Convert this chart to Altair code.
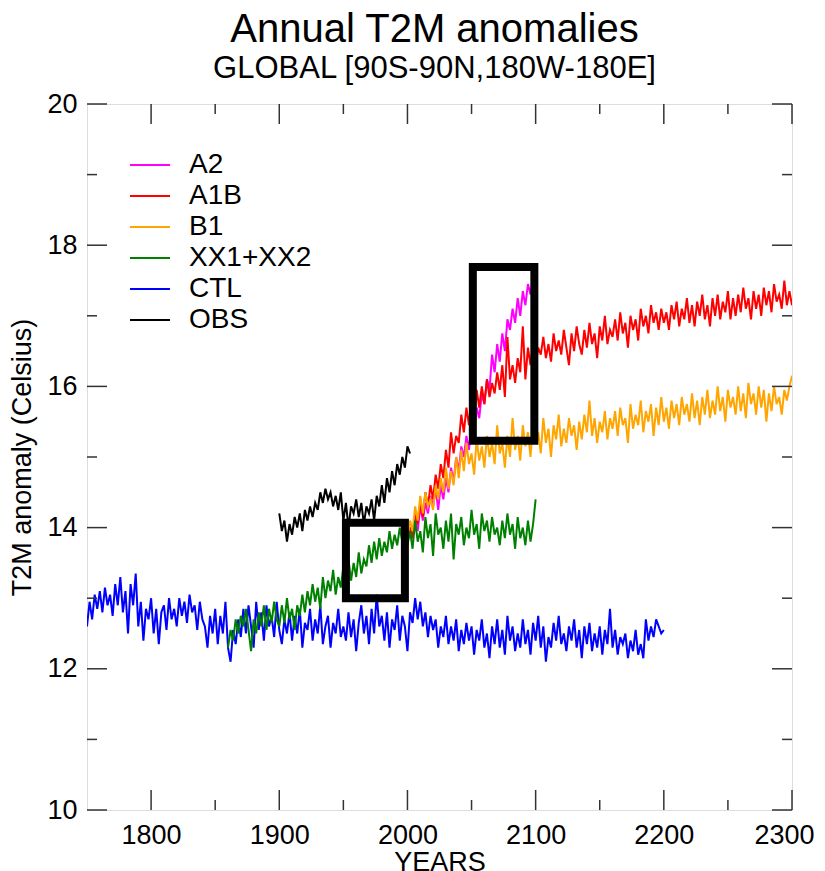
import altair as alt
import pandas as pd

FONT = "Liberation Sans"
series_names = ["A2", "A1B", "B1", "XX1+XX2", "CTL", "OBS"]
series_colors = ["#ff00ff", "#ff0000", "#ffa500", "#008000", "#0000ff", "#000000"]

step = 2  # years between values

ctl_start = 1750
ctl_values = [
    12.6, 12.95, 12.7, 13.05, 12.85, 13.1, 12.8, 13.15, 12.9, 13.05,
    12.75, 13.2, 12.9, 13.3, 12.8, 13.1, 12.5, 13.2, 12.9, 13.35,
    12.6, 12.95, 12.4, 12.85, 12.7, 13.0, 12.5, 12.85, 12.35, 12.8,
    12.9, 12.55, 13.0, 12.7, 12.85, 12.6, 13.0, 12.75, 12.95, 12.65,
    13.05, 12.8, 12.9, 12.55, 12.95, 12.7, 12.6, 12.3, 12.75, 12.5,
    12.85, 12.35, 12.75, 12.5, 12.95, 12.3, 12.1, 12.55, 12.35, 12.7,
    12.45, 12.85, 12.5, 12.9, 12.6, 12.3, 12.95, 12.55, 12.8, 12.4,
    12.9, 12.6, 12.75, 12.45, 12.95, 12.55, 12.35, 12.7, 12.5, 12.8,
    12.4, 12.75, 12.5, 12.85, 12.3, 12.65, 12.55, 12.85, 12.4, 12.7,
    12.5, 12.9, 12.35, 12.6, 12.75, 12.3, 12.65, 12.5, 12.85, 12.45,
    12.6, 12.4, 12.8, 12.45, 12.7, 12.25, 12.65, 12.9, 12.5, 12.75,
    12.35, 12.85, 12.5, 13.05, 12.6, 12.75, 12.4, 12.8, 12.3, 12.7,
    12.55, 12.9, 12.4, 12.75, 12.6, 12.25, 12.8, 12.65, 13.0, 12.7,
    12.95, 12.6, 12.8, 12.45, 12.75, 12.55, 12.7, 12.3, 12.6, 12.45,
    12.75, 12.35, 12.6, 12.4, 12.7, 12.25, 12.55, 12.35, 12.65, 12.4,
    12.6, 12.2, 12.55, 12.4, 12.7, 12.3, 12.5, 12.15, 12.6, 12.35,
    12.7, 12.3, 12.55, 12.2, 12.75, 12.4, 12.6, 12.25, 12.5, 12.3,
    12.7, 12.35, 12.55, 12.2, 12.65, 12.4, 12.75, 12.3, 12.6, 12.1,
    12.45, 12.3, 12.65, 12.4, 12.75, 12.35, 12.5, 12.25, 12.6, 12.4,
    12.7, 12.3, 12.55, 12.15, 12.6, 12.35, 12.65, 12.25, 12.5, 12.3,
    12.6, 12.2, 12.55, 12.35, 12.85, 12.3, 12.55, 12.2, 12.45, 12.35,
    12.5, 12.15, 12.4, 12.25, 12.55, 12.2, 12.35, 12.15, 12.7, 12.4,
    12.6, 12.45, 12.7, 12.6, 12.5, 12.55,
]

xx_start = 1860
xx_values = [
    12.3, 12.55, 12.4, 12.7, 12.5, 12.75, 12.6, 12.85, 12.55, 12.25,
    12.7, 12.5, 12.8, 12.6, 12.9, 12.55, 12.85, 12.65, 12.95, 12.7,
    12.6, 12.9, 12.65, 13.0, 12.7, 12.85, 12.55, 12.9, 12.75, 13.05,
    12.8, 13.1, 12.9, 13.2, 12.95, 13.15, 12.85, 13.3, 13.0, 13.25,
    13.1, 13.4, 13.05, 13.3, 13.15, 13.45, 13.2, 13.55, 13.25, 13.5,
    13.3, 13.65, 13.35, 13.55, 13.45, 13.75, 13.5, 13.8, 13.55, 13.85,
    13.6, 13.8, 13.65, 13.95, 13.7, 13.9, 13.75, 14.0, 13.8, 14.05,
    13.75, 13.95, 13.7, 14.1, 13.8, 13.95, 13.65, 14.15, 13.85, 14.05,
    13.6, 14.2, 13.9, 14.0, 13.7, 14.1, 13.8, 14.2, 13.55, 14.05,
    13.9, 14.15, 13.75, 14.0, 13.85, 14.25, 13.9, 14.05, 13.7, 14.2,
    13.95, 14.1, 13.8, 14.15, 13.9, 14.0, 13.75, 14.1, 13.85, 14.2,
    13.9, 14.05, 13.7, 14.15, 13.85, 14.0, 13.75, 14.1, 13.8, 14.05,
    14.4,
]

a1b_start = 2000
a1b_values = [
    13.8, 14.0, 13.85, 14.2, 14.05, 14.35, 14.15, 14.5, 14.3, 14.6,
    14.4, 14.75, 14.55, 14.9, 14.7, 15.1, 14.85, 15.35, 15.05, 15.3,
    15.2, 15.6, 15.35, 15.7, 15.45, 15.85, 15.55, 15.95, 15.7, 16.0,
    15.75, 16.1, 15.85, 16.05, 15.9, 16.2, 15.95, 16.3, 15.85, 16.7,
    16.1, 16.3, 16.05, 16.4, 16.2, 16.85, 16.1, 16.55, 16.3, 16.6,
    16.3, 16.55, 16.45, 16.7, 16.4, 16.6, 16.35, 16.75, 16.5, 16.65,
    16.45, 16.8, 16.55, 16.3, 16.75, 16.5, 16.85, 16.6, 16.45, 16.8,
    16.55, 16.9, 16.6, 16.75, 16.4, 16.85, 16.65, 17.0, 16.6, 16.8,
    16.7, 16.95, 16.65, 17.05, 16.75, 16.9, 16.55, 17.0, 16.8, 16.95,
    16.65, 17.1, 16.85, 17.0, 16.75, 17.15, 16.9, 17.05, 16.8, 17.1,
    16.9, 17.05, 16.8, 17.15, 16.95, 17.2, 16.85, 17.1, 16.95, 17.25,
    16.9, 17.15, 16.85, 17.2, 17.0, 17.3, 16.95, 17.15, 16.85, 17.25,
    17.0, 17.3, 16.95, 17.2, 17.05, 17.35, 16.95, 17.25, 17.0, 17.3,
    17.05, 17.4, 17.1, 17.25, 16.95, 17.35, 17.1, 17.3, 17.0, 17.4,
    17.15, 17.35, 17.05, 17.45, 17.2, 17.3, 17.1, 17.5, 17.15, 17.35,
    17.15,
]

b1_start = 2000
b1_values = [
    13.85, 14.1, 13.95, 14.3, 14.1, 14.45, 14.2, 14.5, 14.3, 14.4,
    14.25, 14.6, 14.4, 14.7, 14.5, 14.85, 14.55, 14.8, 14.6, 15.0,
    14.7, 15.1, 14.8, 15.2, 14.9, 15.05, 14.75, 15.25, 14.95, 15.15,
    14.85, 15.3, 15.0, 15.2, 14.9, 15.45, 15.05, 15.2, 14.85, 15.3,
    15.0, 15.55, 15.1, 15.3, 14.95, 15.45, 15.15, 15.35, 15.0, 15.5,
    15.2, 15.35, 15.05, 15.55, 15.2, 15.4, 15.0, 15.45, 15.25, 15.6,
    15.15, 15.4, 15.2, 15.55, 15.3, 15.45, 15.1, 15.5, 15.25, 15.6,
    15.35, 15.8, 15.3, 15.55, 15.2, 15.5, 15.35, 15.65, 15.25, 15.55,
    15.4, 15.65, 15.3, 15.7, 15.45, 15.55, 15.2, 15.75, 15.4, 15.6,
    15.45, 15.8, 15.35, 15.65, 15.5, 15.75, 15.3, 15.7, 15.45, 15.85,
    15.5, 15.7, 15.4, 15.8, 15.55, 15.75, 15.45, 15.85, 15.6, 15.75,
    15.5, 15.9, 15.55, 15.8, 15.45, 15.85, 15.6, 15.95, 15.55, 15.8,
    15.6, 16.0, 15.65, 15.85, 15.5, 15.95, 15.7, 15.85, 15.6, 16.0,
    15.65, 15.9, 15.55, 16.05, 15.75, 15.9, 15.6, 16.0, 15.7, 15.95,
    15.5, 15.9, 15.65, 16.0, 15.75, 15.85, 15.6, 15.95, 15.8, 16.0,
    16.15,
]

a2_start = 2000
a2_values = [
    13.8, 14.0, 13.85, 14.15, 13.95, 14.3, 14.1, 14.35, 14.2, 14.45,
    14.3, 14.55, 14.25, 14.6, 14.4, 14.7, 14.5, 14.85, 14.65, 15.0,
    14.8, 15.15, 15.0, 15.3, 15.1, 15.5, 15.35, 15.7, 15.55, 15.9,
    15.75, 16.1, 15.95, 16.45, 16.2, 16.6, 16.35, 16.75, 16.5, 16.95,
    16.8, 17.1, 16.9, 17.25, 17.0, 17.35, 17.15, 17.45, 17.3, 17.55,
    17.7,
]

obs_start = 1900
obs_values = [
    14.2, 13.95, 14.1, 13.8, 14.05, 13.9, 14.15, 14.0, 14.2, 13.95,
    14.25, 14.1, 14.3, 14.15, 14.35, 14.25, 14.5, 14.35, 14.55, 14.4,
    14.5, 14.3, 14.45, 14.25, 14.5, 14.1, 14.35, 14.0, 14.3, 14.2,
    14.4, 14.15, 14.35, 14.05, 14.3, 14.2, 14.4, 14.1, 14.45, 14.3,
    14.6, 14.35, 14.7, 14.5, 14.8, 14.6, 14.9, 14.75, 15.0, 14.85,
    15.15, 15.05,
]

# highlight boxes: year range and value range
box_x1 = [1952, 2051]
box_x2 = [1998, 2099]
box_y1 = [13.0, 15.23]
box_y2 = [14.07, 17.69]

x_major = [1800, 1900, 2000, 2100, 2200, 2300]
x_minor = [1850, 1950, 2050, 2150, 2250]
y_major = [10, 12, 14, 16, 18, 20]
y_minor = [11, 13, 15, 17, 19]

W, H = 705, 706
AXC = "#333333"


def frame(name, start, vals):
    return pd.DataFrame({
        "year": [start + step * i for i in range(len(vals))],
        "value": vals,
        "series": name,
    })


xscale = alt.Scale(domain=[1750, 2300], nice=False, zero=False)
yscale = alt.Scale(domain=[10, 20], nice=False, zero=False)
x_axis = alt.Axis(values=x_major, format="d", title="YEARS", ticks=False, domain=False,
                  grid=False, labelFontSize=27, labelFont=FONT, labelColor="black",
                  labelPadding=12, labelFlush=True, labelFlushOffset=22,
                  titleFontSize=27, titleFont=FONT,
                  titleFontWeight="normal", titleColor="black", titlePadding=1)
y_axis = alt.Axis(values=y_major, format="d", title="T2M anomaly (Celsius)", ticks=False,
                  domain=False, grid=False, labelFontSize=27, labelFont=FONT,
                  labelColor="black", labelPadding=10, labelFlush=False, titleFontSize=27,
                  titleFont=FONT, titleFontWeight="normal", titleColor="black",
                  titlePadding=10)
X = alt.X("year:Q", scale=xscale, axis=x_axis)
Y = alt.Y("value:Q", scale=yscale, axis=y_axis)

color = alt.Color(
    "series:N",
    scale=alt.Scale(domain=series_names, range=series_colors),
    legend=alt.Legend(title=None, orient="none", legendX=49, legendY=47,
                      symbolType="M-2,0H2", symbolSize=400, symbolStrokeWidth=2,
                      labelFontSize=28, labelFont=FONT, labelColor="black",
                      labelOffset=25, rowPadding=3, padding=0),
)

order = [("A2", a2_start, a2_values), ("A1B", a1b_start, a1b_values),
         ("B1", b1_start, b1_values), ("CTL", ctl_start, ctl_values),
         ("XX1+XX2", xx_start, xx_values), ("OBS", obs_start, obs_values)]

layers = []
for name, start, vals in order:
    layers.append(
        alt.Chart(frame(name, start, vals)).mark_line(strokeWidth=2, clip=True)
        .encode(x=X, y=Y, color=color)
    )

boxes = pd.DataFrame({"year": box_x1, "year2": box_x2, "value": box_y1, "value2": box_y2})
layers.append(
    alt.Chart(boxes).mark_rect(filled=False, stroke="black", strokeWidth=8)
    .encode(x=X, x2="year2:Q", y=Y, y2="value2:Q")
)

xt_major = pd.DataFrame({"year": x_major})
xt_minor = pd.DataFrame({"year": x_minor})
yt_major = pd.DataFrame({"value": y_major})
yt_minor = pd.DataFrame({"value": y_minor})

for df, ln in [(xt_major, 20), (xt_minor, 10)]:
    layers.append(alt.Chart(df).mark_rule(color=AXC, strokeWidth=1.5)
                  .encode(x=X, y=alt.value(H), y2=alt.value(H - ln)))
    layers.append(alt.Chart(df).mark_rule(color=AXC, strokeWidth=1.5)
                  .encode(x=X, y=alt.value(0), y2=alt.value(ln)))
for df, ln in [(yt_major, 20), (yt_minor, 10)]:
    layers.append(alt.Chart(df).mark_rule(color=AXC, strokeWidth=1.5)
                  .encode(y=Y, x=alt.value(0), x2=alt.value(ln)))
    layers.append(alt.Chart(df).mark_rule(color=AXC, strokeWidth=1.5)
                  .encode(y=Y, x=alt.value(W), x2=alt.value(W - ln)))

chart = alt.layer(*layers).properties(
    width=W, height=H,
    title=alt.Title("Annual T2M anomalies", subtitle="GLOBAL [90S-90N,180W-180E]",
                    fontSize=40, subtitleFontSize=31, font=FONT, subtitleFont=FONT,
                    fontWeight="normal", color="black", subtitleColor="black",
                    anchor="middle", offset=6, subtitlePadding=4, dx=-5),
    padding={"left": 0, "top": 2, "right": 0, "bottom": 0},
).configure_view(stroke=AXC, strokeWidth=1.5).configure(background="white")

chart.save("out.html", embed_options={"renderer": "svg", "actions": False})
